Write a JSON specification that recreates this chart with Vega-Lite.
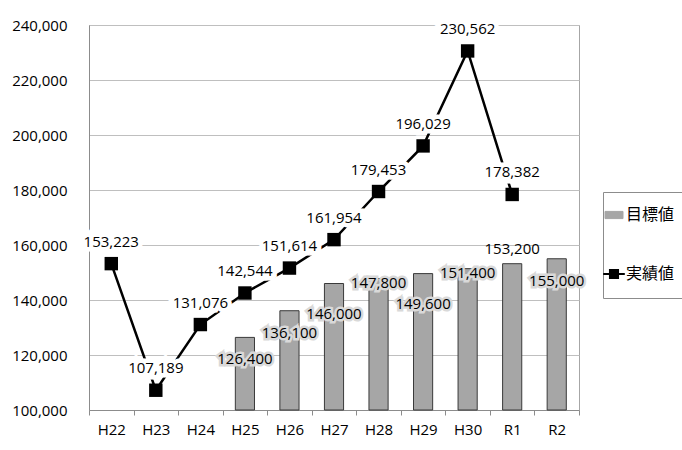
{
  "$schema": "https://vega.github.io/schema/vega-lite/v6.json",
  "width": 490,
  "height": 385,
  "autosize": {"type": "none"},
  "padding": {"left": 89, "top": 25, "right": 103, "bottom": 40},
  "background": "white",
  "config": {
    "font": "Open Sans",
    "view": {"stroke": "#a6a6a6", "strokeWidth": 1},
    "axis": {"labelFont": "Open Sans", "labelFontSize": 15, "labelColor": "black", "title": null, "gridColor": "#bfbfbf", "domainColor": "#8c8c8c"},
    "text": {"font": "Open Sans", "fontSize": 15},
    "legend": {"strokeColor": "#8c8c8c", "fillColor": "#ffffff", "strokeWidth": 1}
  },
  "data": {
    "values": [
      {"year": "H22", "target": null, "actual": 153223},
      {"year": "H23", "target": null, "actual": 107189},
      {"year": "H24", "target": null, "actual": 131076},
      {"year": "H25", "target": 126400, "actual": 142544},
      {"year": "H26", "target": 136100, "actual": 151614},
      {"year": "H27", "target": 146000, "actual": 161954},
      {"year": "H28", "target": 147800, "actual": 179453},
      {"year": "H29", "target": 149600, "actual": 196029},
      {"year": "H30", "target": 151400, "actual": 230562},
      {"year": "R1", "target": 153200, "actual": 178382},
      {"year": "R2", "target": 155000, "actual": null}
    ]
  },
  "encoding": {
    "x": {
      "field": "year", "type": "ordinal", "sort": null,
      "scale": {"domain": ["H22", "H23", "H24", "H25", "H26", "H27", "H28", "H29", "H30", "R1", "R2"], "paddingInner": 0, "paddingOuter": 0},
      "axis": {"labelAngle": 0, "tickBand": "extent", "tickSize": 5, "tickColor": "#8c8c8c", "labelPadding": 7, "grid": false, "domainColor": "#8c8c8c"}
    },
    "y": {"type": "quantitative", "scale": {"domain": [100000, 240000], "zero": false, "nice": false},
      "axis": {"values": [100000, 120000, 140000, 160000, 180000, 200000, 220000, 240000], "format": ",.0f", "ticks": false, "tickSize": 0, "labelPadding": 22, "grid": true, "domainColor": "#8c8c8c"}}
  },
  "layer": [
    {
      "transform": [{"filter": "datum.target != null"}],
      "mark": {"type": "bar", "width": {"band": 0.43}, "stroke": "#3a3a3a", "strokeWidth": 1},
      "encoding": {
        "y": {"field": "target", "type": "quantitative"},
        "y2": {"datum": 100000},
        "color": {
          "datum": "目標値", "type": "nominal",
          "scale": {"domain": ["目標値", "実績値"], "range": ["#a6a6a6", "#000000"]},
          "legend": {
            "orient": "none", "legendX": 514, "legendY": 167, "title": null,
            "strokeColor": "#8c8c8c", "fillColor": "#ffffff", "padding": 15, "rowPadding": 42,
            "labelFont": "Noto Sans CJK JP", "labelFontSize": 16, "labelColor": "black",
            "symbolSize": 324, "symbolOffset": -12, "labelOffset": 4,
            "encode": {
              "symbols": {
                "update": {
                  "shape": {"signal": "datum.value === '目標値' ? 'M-1,-0.4H1V0.4H-1Z' : 'M-1.2,0H1.2M-0.45,-0.45H0.45V0.45H-0.45Z'"},
                  "fill": {"signal": "datum.value === '目標値' ? '#a6a6a6' : '#000000'"},
                  "stroke": {"signal": "datum.value === '目標値' ? '#3a3a3a' : '#000000'"},
                  "strokeWidth": {"signal": "datum.value === '目標値' ? 1 : 2"},
                  "opacity": {"value": 1}
                }
              }
            }
          }
        }
      }
    },
    {
      "transform": [{"filter": "indexof(['H25','H26','R2'], datum.year) >= 0"}],
      "mark": {"type": "text", "dy": 22, "stroke": "#d9d9d9", "strokeWidth": 5, "fill": "#d9d9d9", "strokeJoin": "miter"},
      "encoding": {"y": {"field": "target", "type": "quantitative"}, "text": {"field": "target", "type": "quantitative", "format": ","}}
    },
    {
      "transform": [{"filter": "indexof(['H25','H26','R2'], datum.year) >= 0"}],
      "mark": {"type": "text", "dy": 22, "color": "black"},
      "encoding": {"y": {"field": "target", "type": "quantitative"}, "text": {"field": "target", "type": "quantitative", "format": ","}}
    },
    {
      "transform": [{"filter": "indexof(['H27','H29'], datum.year) >= 0"}],
      "mark": {"type": "text", "dy": 30, "stroke": "#d9d9d9", "strokeWidth": 5, "fill": "#d9d9d9", "strokeJoin": "miter"},
      "encoding": {"y": {"field": "target", "type": "quantitative"}, "text": {"field": "target", "type": "quantitative", "format": ","}}
    },
    {
      "transform": [{"filter": "indexof(['H27','H29'], datum.year) >= 0"}],
      "mark": {"type": "text", "dy": 30, "color": "black"},
      "encoding": {"y": {"field": "target", "type": "quantitative"}, "text": {"field": "target", "type": "quantitative", "format": ","}}
    },
    {
      "transform": [{"filter": "indexof(['H28','H30'], datum.year) >= 0"}],
      "mark": {"type": "text", "dy": 4, "stroke": "#d9d9d9", "strokeWidth": 5, "fill": "#d9d9d9", "strokeJoin": "miter"},
      "encoding": {"y": {"field": "target", "type": "quantitative"}, "text": {"field": "target", "type": "quantitative", "format": ","}}
    },
    {
      "transform": [{"filter": "indexof(['H28','H30'], datum.year) >= 0"}],
      "mark": {"type": "text", "dy": 4, "color": "black"},
      "encoding": {"y": {"field": "target", "type": "quantitative"}, "text": {"field": "target", "type": "quantitative", "format": ","}}
    },
    {
      "transform": [{"filter": "datum.year === 'R1'"}],
      "mark": {"type": "text", "dy": -15, "color": "black"},
      "encoding": {"y": {"field": "target", "type": "quantitative"}, "text": {"field": "target", "type": "quantitative", "format": ","}}
    },
    {
      "transform": [{"filter": "datum.actual != null"}],
      "mark": {"type": "line", "strokeWidth": 2.5},
      "encoding": {
        "y": {"field": "actual", "type": "quantitative"},
        "color": {
          "datum": "実績値", "type": "nominal",
          "legend": {
            "orient": "none", "legendX": 514, "legendY": 167, "title": null,
            "strokeColor": "#8c8c8c", "fillColor": "#ffffff", "padding": 15, "rowPadding": 42,
            "labelFont": "Noto Sans CJK JP", "labelFontSize": 16, "labelColor": "black",
            "symbolSize": 324, "symbolOffset": -12, "labelOffset": 4,
            "encode": {
              "symbols": {
                "update": {
                  "shape": {"signal": "datum.value === '目標値' ? 'M-1,-0.4H1V0.4H-1Z' : 'M-1.2,0H1.2M-0.45,-0.45H0.45V0.45H-0.45Z'"},
                  "fill": {"signal": "datum.value === '目標値' ? '#a6a6a6' : '#000000'"},
                  "stroke": {"signal": "datum.value === '目標値' ? '#3a3a3a' : '#000000'"},
                  "strokeWidth": {"signal": "datum.value === '目標値' ? 1 : 2"},
                  "opacity": {"value": 1}
                }
              }
            }
          }
        }
      }
    },
    {
      "transform": [{"filter": "datum.actual != null"}],
      "mark": {"type": "point", "shape": "square", "filled": true, "size": 180, "color": "black", "opacity": 1},
      "encoding": {
        "y": {"field": "actual", "type": "quantitative"}
      }
    },
    {
      "transform": [{"filter": "datum.actual != null"}],
      "mark": {"type": "text", "dy": -22, "stroke": "white", "strokeWidth": 9, "fill": "white", "strokeJoin": "miter"},
      "encoding": {
        "y": {"field": "actual", "type": "quantitative"},
        "text": {"field": "actual", "type": "quantitative", "format": ","}
      }
    },
    {
      "transform": [{"filter": "datum.actual != null"}],
      "mark": {"type": "text", "dy": -22, "color": "black"},
      "encoding": {
        "y": {"field": "actual", "type": "quantitative"},
        "text": {"field": "actual", "type": "quantitative", "format": ","}
      }
    }
  ]
}
